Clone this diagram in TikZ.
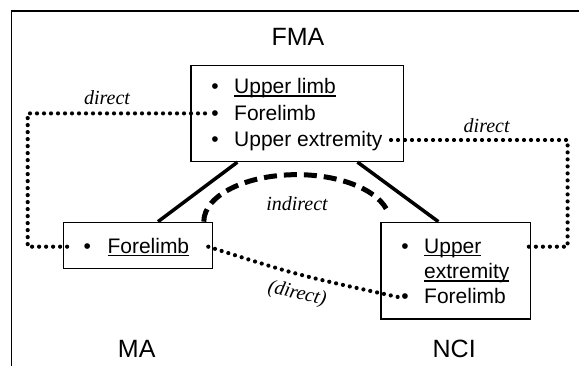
\documentclass[tikz,border=0pt]{standalone}
\usepackage{fontspec}
\setmainfont{Liberation Sans}
\newfontfamily\timesfont{Liberation Serif}
\newcommand\myul[1]{\sbox0{#1}\rlap{\rule[-2.6pt]{\wd0}{1.5pt}}\usebox0}
\begin{document}
\begin{tikzpicture}[x=1pt,y=-1pt,
  box/.style={draw, line width=1.3pt, inner sep=0pt},
  itemtxt/.style={anchor=base west, inner sep=0pt, font=\fontsize{21}{24}\selectfont},
  bul/.style={anchor=base, inner sep=0pt, font=\fontsize{21}{24}\selectfont},
  grp/.style={inner sep=0pt, font=\fontsize{25}{30}\selectfont},
  rel/.style={inner sep=0pt, font=\timesfont\itshape\fontsize{20}{24}\selectfont},
  dotline/.style={line width=4.2pt, dash pattern=on 0pt off 7pt, line cap=round},
  solidline/.style={line width=3.5pt},
  dashline/.style={line width=5pt, dash pattern=on 13pt off 7pt}]
\useasboundingbox (0,0) rectangle (579,366);
% outer frame
\coordinate (fbl) at (11.7,366);
\coordinate (ftl) at (11.7,11);
\coordinate (ftr) at (579,11);
\draw[line width=1.5pt] (fbl) -- (ftl) -- (ftr);
% boxes
\node[box, minimum width=212.6pt, minimum height=96pt] (fma) at (297.3,113.5) {};
\node[box, minimum width=149pt, minimum height=46pt] (ma) at (137.8,245.3) {};
\node[box, minimum width=149.7pt, minimum height=96.7pt] (nci) at (455.85,270.65) {};
% group labels
\node[grp] (lfma) at (298,37) {FMA};
\node[grp] (lma) at (136.7,349.2) {MA};
\node[grp] (lnci) at (454.2,349) {NCI};
% FMA items
\node[bul] (b1) at (215,94) {•};
\node[itemtxt] (t1) at (234,94) {\myul{Upper limb}};
\node[bul] (b2) at (215,120.5) {•};
\node[itemtxt] (t2) at (234,120.5) {Forelimb};
\node[bul] (b3) at (215,147) {•};
\node[itemtxt] (t3) at (234,147) {Upper extremity};
% MA items
\node[bul] (b4) at (87.3,253.7) {•};
\node[itemtxt] (t4) at (107.3,253.7) {\myul{Forelimb}};
% NCI items
\node[bul] (b5) at (405,253.7) {•};
\node[itemtxt] (t5) at (424,253.7) {\myul{Upper}};
\node[itemtxt] (t6) at (424,279) {\myul{extremity}};
\node[bul] (b7) at (405,304) {•};
\node[itemtxt] (t7) at (424,304) {Forelimb};
% solid connectors
\draw[solidline] ([xshift=-59.9pt]fma.south) -- ([xshift=20.2pt]ma.north);
\draw[solidline] ([xshift=60.2pt]fma.south) -- ([xshift=-17.5pt]nci.north);
% dashed indirect arc
\draw[dashline] ([xshift=66pt]ma.north) arc[start angle=180, end angle=344, x radius=93, y radius=47];
\node[rel] (lind) at (297,203.3) {indirect};
% dotted direct left
\coordinate (d1s) at (205,113.4);
\coordinate (d1a) at (27.7,113.4);
\coordinate (d1b) at (27.7,246.7);
\coordinate (d1e) at (71,246.7);
\draw[dotline] (d1s) -- (d1a) -- (d1b) -- (d1e);
\node[rel] (ldl) at (107,97.7) {direct};
% dotted direct right
\coordinate (d2s) at (391,140);
\coordinate (d2a) at (567.6,140);
\coordinate (d2b) at (567.6,246.7);
\coordinate (d2e) at (522,246.7);
\draw[dotline] (d2s) -- (d2a) -- (d2b) -- (d2e);
\node[rel] (ldr) at (486.7,126) {direct};
% dotted (direct) diagonal
\coordinate (d3s) at (208.3,246.7);
\coordinate (d3e) at (398,297);
\draw[dotline] (d3s) .. controls (297,275) .. (d3e);
\node[rel, rotate=-13] (ldd) at (297,294) {(direct)};
\end{tikzpicture}
\end{document}
